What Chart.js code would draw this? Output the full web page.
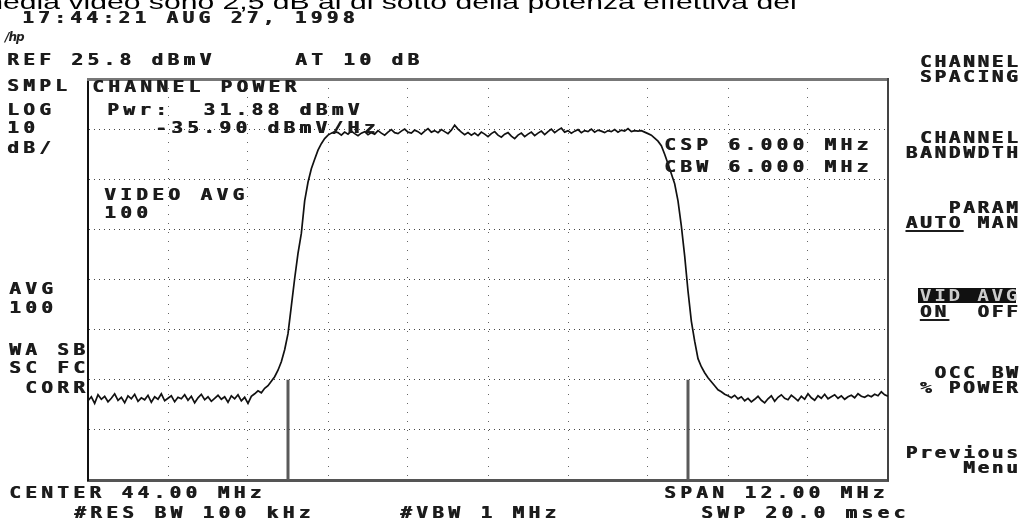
<!DOCTYPE html>
<html>
<head>
<meta charset="utf-8">
<script src="https://cdn.jsdelivr.net/npm/chart.js@4.4.1/dist/chart.umd.min.js"></script>
<style>
  body { margin: 0; background: #fff; }
  #wrap { position: relative; width: 1029px; height: 525px; overflow: hidden; background: #fff; }
  #plot { position: absolute; left: 0; top: 0; }
  .t, .sk {
    position: absolute;
    font-family: "DejaVu Sans Mono", monospace;
    font-weight: bold;
    font-size: 15px;
    line-height: 15px;
    white-space: pre;
    color: #1c1c1c;
    text-shadow: 0.6px 0 0 #1c1c1c;
  }
  .t { letter-spacing: 3.3px; transform: scaleX(1.3); transform-origin: 0 0; }
  .sk { right: 9px; text-align: right; letter-spacing: 2px; transform: scaleX(1.3); transform-origin: 100% 0; }
  .sk u { text-decoration-thickness: 2px; text-underline-offset: 2px; }
  .cap {
    position: absolute; left: -22px; top: -9px;
    font-family: "Liberation Sans", Arial, sans-serif;
    font-size: 21px; line-height: 21px; white-space: pre; color: #000;
    transform: scaleX(1.435); transform-origin: 0 0;
  }
  .logo { position: absolute; left: 5px; top: 30px; font: italic bold 12px "DejaVu Sans", sans-serif; color: #222; letter-spacing: -1px; }
  .hl { position: absolute; left: 918px; top: 288px; width: 98px; height: 15px; background: #111; }
</style>
</head>
<body>
<div id="wrap">
  <canvas id="plot" width="1029" height="525"></canvas>

  <div class="cap">media video sono 2,5 dB al di sotto della potenza effettiva del</div>

  <div class="t" style="left:22px;top:11px">17:44:21 AUG 27, 1998</div>
  <div class="logo">/hp</div>
  <div class="t" style="left:7px;top:53px">REF 25.8 dBmV</div>
  <div class="t" style="left:295px;top:53px">AT 10 dB</div>
  <div class="t" style="left:7px;top:79px">SMPL</div>
  <div class="t" style="left:7px;top:103px">LOG</div>
  <div class="t" style="left:7px;top:121px">10</div>
  <div class="t" style="left:7px;top:141px">dB/</div>
  <div class="t" style="left:9px;top:282px">AVG</div>
  <div class="t" style="left:9px;top:301px">100</div>
  <div class="t" style="left:9px;top:343px">WA SB</div>
  <div class="t" style="left:9px;top:361px">SC FC</div>
  <div class="t" style="left:9px;top:381px"> CORR</div>

  <div class="t" style="left:92px;top:80px">CHANNEL POWER</div>
  <div class="t" style="left:107px;top:103px">Pwr:  31.88 dBmV</div>
  <div class="t" style="left:155px;top:121px">-35.90 dBmV/Hz</div>
  <div class="t" style="left:104px;top:188px">VIDEO AVG</div>
  <div class="t" style="left:104px;top:206px">100</div>
  <div class="t" style="left:664px;top:138px">CSP 6.000 MHz</div>
  <div class="t" style="left:664px;top:160px">CBW 6.000 MHz</div>

  <div class="t" style="left:9px;top:486px">CENTER 44.00 MHz</div>
  <div class="t" style="left:74px;top:506px">#RES BW 100 kHz</div>
  <div class="t" style="left:400px;top:506px">#VBW 1 MHz</div>
  <div class="t" style="left:664px;top:486px">SPAN 12.00 MHz</div>
  <div class="t" style="left:701px;top:506px">SWP 20.0 msec</div>

  <div class="sk" style="top:55px">CHANNEL<br>SPACING</div>
  <div class="sk" style="top:131px">CHANNEL<br>BANDWDTH</div>
  <div class="sk" style="top:201px">PARAM<br><u>AUTO</u> MAN</div>
  <div class="hl"></div>
  <div class="sk" style="top:289px;color:#ccc;text-shadow:none">VID AVG</div>
  <div class="sk" style="top:305px"><u>ON</u>  OFF</div>
  <div class="sk" style="top:366px">OCC BW<br>% POWER</div>
  <div class="sk" style="top:446px">Previous<br>Menu</div>
</div>

<script>
  // sweep: 38 - 50 MHz, one point every 0.05 MHz
  const startMHz = 38;
  const stopMHz = 50;
  const stepMHz = 0.05;
  const refLevel = 25.8;
  const bottomLevel = -54.2;

  // trace, dBmV
  const levelDbmv = [
    // 38.00 - 40.45
    -38.4, -37.6, -38.9, -37.2, -38.1, -37.5, -38.6, -37.9, -37.0, -38.3,
    -37.7, -38.8, -37.4, -38.0, -37.1, -38.5, -37.8, -38.2, -37.3, -38.7,
    -37.6, -38.1, -37.0, -38.4, -37.9, -37.4, -38.6, -37.7, -38.0, -37.2,
    -38.3, -37.5, -38.8, -37.8, -37.1, -38.2, -37.6, -38.5, -37.9, -37.3,
    -38.1, -37.6, -38.7, -37.4, -38.0, -37.2, -38.4, -37.7, -38.9, -37.5,
    // 40.50 - 41.70 rising edge
    -37.0, -36.4, -36.8, -35.9, -35.4, -34.5, -33.6, -32.3, -30.6, -28.2,
    -25.0, -19.5, -14.0, -9.0, -5.0, 1.5, 5.2, 7.9, 9.8, 11.6,
    12.9, 13.9, 14.6, 15.0, 15.3,
    // 41.75 - 46.25 channel top
    15.1, 14.6, 15.2, 14.8, 15.4, 14.9, 14.5, 15.0, 15.3, 14.7,
    15.1, 14.8, 15.5, 15.0, 14.6, 15.2, 15.7, 15.1, 14.9, 15.4,
    15.8, 15.2, 15.0, 15.6, 15.3, 14.8, 15.4, 15.9, 15.2, 15.5,
    15.1, 15.7, 15.3, 14.9, 15.6, 16.6, 15.8, 15.2, 14.7, 15.1,
    14.6, 15.0, 14.5, 15.2, 14.8, 14.3, 14.9, 15.3, 14.6, 14.2,
    14.8, 15.1, 14.4, 13.9, 14.6, 15.0, 14.3, 14.8, 15.2, 14.5,
    15.0, 15.4, 14.7, 15.3, 15.8, 15.1, 15.6, 16.0, 15.2, 15.5,
    15.0, 15.4, 15.7, 15.1, 15.5, 15.3, 15.8, 15.2, 15.6, 15.4,
    15.1, 15.5, 15.3, 15.7, 15.2, 15.6, 15.4, 15.9, 15.3, 15.5,
    15.4,
    // 46.30 - 47.65 falling edge
    15.5, 15.2, 14.9, 14.6, 14.0, 13.4, 12.5, 10.8, 8.9, 6.9,
    4.9, 1.5, -3.5, -9.5, -16.5, -22.5, -26.5, -30.0, -31.6, -32.8,
    -33.8, -34.6, -35.4, -36.2, -36.6, -37.1, -37.4, -37.8,
    // 47.70 - 50.00
    -37.3, -38.0, -37.6, -38.4, -37.9, -38.6, -38.1, -37.5, -38.3, -38.8,
    -38.0, -37.4, -38.5, -37.7, -37.2, -37.9, -38.2, -37.3, -37.8, -38.4,
    -37.5, -38.1, -37.0, -37.8, -38.3, -37.4, -37.9, -37.1, -38.0, -37.6,
    -37.2, -37.9, -37.4, -38.1, -37.6, -37.3, -37.8, -37.0, -37.5, -37.7,
    -37.3, -37.6, -37.1, -37.4, -36.6, -37.2, -37.5
  ];

  // channel edges (CSP 6 MHz around 44 MHz) and their marker height
  const chanEdgesMHz = [41, 47];
  const markerTopDbmv = -34.2;

  // graticule: 10 columns x 8 rows
  const xGridMHz = [38, 39.2, 40.4, 41.6, 42.8, 44, 45.2, 46.4, 47.6, 48.8, 50];
  const yGridDbmv = [25.8, 15.8, 5.8, -4.2, -14.2, -24.2, -34.2, -44.2, -54.2];

  const trace = levelDbmv.map((v, i) => ({ x: startMHz + i * stepMHz, y: v }));

  const markerSets = chanEdgesMHz.map((f) => ({
    data: [{ x: f, y: bottomLevel }, { x: f, y: markerTopDbmv }],
    borderColor: "#5a5a5a",
    borderWidth: 3,
    pointRadius: 0,
  }));

  const ctx = document.getElementById("plot").getContext("2d");
  new Chart(ctx, {
    type: "line",
    data: {
      datasets: [
        {
          data: trace,
          borderColor: "#111",
          borderWidth: 1.7,
          pointRadius: 0,
          tension: 0,
        },
        ...markerSets,
      ],
    },
    options: {
      responsive: false,
      animation: false,
      devicePixelRatio: 1,
      layout: { padding: { left: 88, right: 141, top: 79, bottom: 45 } },
      plugins: { legend: { display: false }, tooltip: { enabled: false } },
      scales: {
        x: {
          type: "linear",
          min: startMHz,
          max: stopMHz,
          afterBuildTicks: (s) => { s.ticks = xGridMHz.map((v) => ({ value: v })); },
          ticks: { display: false },
          grid: { color: "#666", lineWidth: 1, drawTicks: false },
          border: { display: true, color: "#555", width: 3, dash: [1, 8] },
        },
        y: {
          type: "linear",
          min: bottomLevel,
          max: refLevel,
          afterBuildTicks: (s) => { s.ticks = yGridDbmv.map((v) => ({ value: v })); },
          ticks: { display: false },
          grid: { color: "#444", lineWidth: 1, drawTicks: false },
          border: { display: true, color: "#111", width: 2, dash: [1, 4] },
        },
        xTop: {
          type: "linear",
          position: "top",
          min: startMHz,
          max: stopMHz,
          ticks: { display: false },
          grid: { display: false, drawTicks: false },
          border: { display: true, color: "#777", width: 3 },
        },
        yRight: {
          type: "linear",
          position: "right",
          min: bottomLevel,
          max: refLevel,
          ticks: { display: false },
          grid: { display: false, drawTicks: false },
          border: { display: true, color: "#444", width: 2 },
        },
      },
    },
  });
</script>
</body>
</html>
